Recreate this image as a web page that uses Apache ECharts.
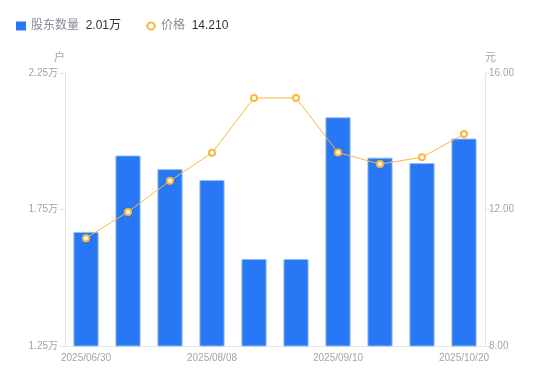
<!DOCTYPE html>
<html><head><meta charset="utf-8">
<script src="https://cdn.jsdelivr.net/npm/echarts@6/dist/echarts.min.js"></script>
<style>html,body{margin:0;padding:0;background:#fff}#c{width:550px;height:381px}</style>
</head><body><div id="c"></div>
<script>
const categories = ['2025/06/30','2025/07/10','2025/07/20','2025/08/08','2025/08/20','2025/08/29','2025/09/10','2025/09/19','2025/09/30','2025/10/20'];
const holders = [1.668, 1.948, 1.898, 1.858, 1.569, 1.569, 2.088, 1.940, 1.920, 2.010];
const prices = [11.16, 11.93, 12.84, 13.66, 15.27, 15.27, 13.67, 13.33, 13.53, 14.21];
const leftTicks = [1.25, 1.75, 2.25];
const rightTicks = [8, 12, 16];
const legendValues = {'股东数量': '2.01万', '价格': '14.210'};

const FONT = '"Liberation Sans", Arial, "Noto Sans CJK SC", sans-serif';
const chart = echarts.init(document.getElementById('c'));
chart.setOption({
  animation: false,
  textStyle: {fontFamily: FONT},
  legend: {
    left: 11, top: 15,
    itemGap: 24,
    itemWidth: 10, itemHeight: 9,
    data: [{name: '股东数量', icon: 'rect', itemStyle: {borderWidth: 0, color: '#2878f5'}}, {name: '价格'}],
    formatter: n => '{n|' + n + '}  {v|' + legendValues[n] + '}',
    textStyle: {
      fontFamily: FONT,
      rich: {
        n: {color: '#8a8a95', fontSize: 12, fontFamily: FONT},
        v: {color: '#333', fontSize: 12, fontFamily: FONT}
      }
    }
  },
  grid: {left: 65, right: 65, top: 73, bottom: 35},
  xAxis: {
    type: 'category', data: categories,
    axisLine: {lineStyle: {color: '#e3e3e8'}},
    axisTick: {show: false},
    axisLabel: {color: '#a3a3b0', fontSize: 10, interval: 2, margin: 7, fontFamily: FONT}
  },
  yAxis: [{
    type: 'value', min: leftTicks[0], max: leftTicks[leftTicks.length-1], interval: 0.5,
    name: '户', nameGap: 10,
    nameTextStyle: {color: '#a3a3b0', fontSize: 11, align: 'right'},
    axisLine: {show: true, lineStyle: {color: '#e3e3e8'}},
    axisTick: {show: true, length: 5, lineStyle: {color: '#e3e3e8'}},
    splitLine: {show: false},
    axisLabel: {color: '#a3a3b0', fontSize: 10, margin: 7, fontFamily: FONT, formatter: v => v.toFixed(2) + '万'}
  }, {
    type: 'value', min: rightTicks[0], max: rightTicks[rightTicks.length-1], interval: 4,
    name: '元', nameGap: 10,
    nameTextStyle: {color: '#a3a3b0', fontSize: 11, align: 'left'},
    axisLine: {show: true, lineStyle: {color: '#e3e3e8'}},
    axisTick: {show: true, length: 5, lineStyle: {color: '#e3e3e8'}},
    splitLine: {show: false},
    axisLabel: {color: '#a3a3b0', fontSize: 10, margin: 4, fontFamily: FONT, formatter: v => v.toFixed(2)}
  }],
  series: [{
    name: '股东数量', type: 'bar', data: holders, barWidth: '60%',
    itemStyle: {color: '#2878f5', borderColor: 'rgba(150,190,250,0.9)', borderWidth: 1}
  }, {
    name: '价格', type: 'line', yAxisIndex: 1, data: prices,
    symbol: 'emptyCircle', symbolSize: 6,
    lineStyle: {color: '#f8b93e', width: 1},
    itemStyle: {color: '#f8b93e', borderWidth: 2}
  }]
});
</script></body></html>
